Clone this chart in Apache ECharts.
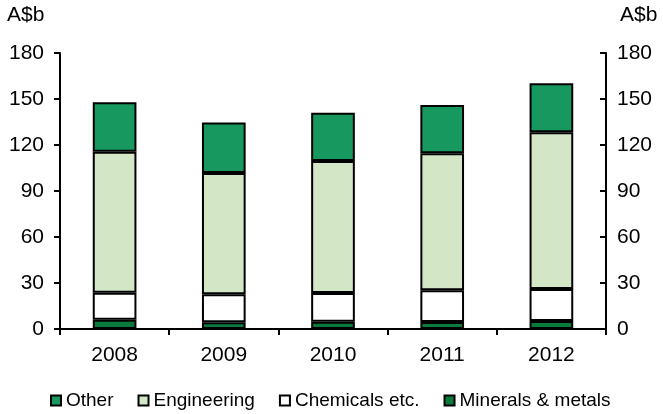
<!DOCTYPE html>
<html>
<head>
<meta charset="utf-8">
<script src="https://cdn.jsdelivr.net/npm/echarts@6/dist/echarts.min.js"></script>
<style>
  html, body { margin: 0; padding: 0; background: #fff; }
  #div1 { width: 663px; height: 414px; }
</style>
</head>
<body>
<div id="div1"></div>
<script>
// 数据
var years = ['2008', '2009', '2010', '2011', '2012'];
var minerals = [6.1, 4.4, 4.8, 4.6, 5.2];
var chemicals = [17.6, 18.2, 18.7, 20.6, 20.9];
var engineering = [91.9, 79.2, 86.1, 89.4, 102.2];
var other = [32.3, 32.8, 31.5, 31.5, 32.0];
var yTicks = [0, 30, 60, 90, 120, 150, 180];

function echart1() {
    var myChart = echarts.init(document.getElementById('div1'));
    var font = 'Arial, "Liberation Sans", sans-serif';
    function bar(name, data, color) {
        return {
            name: name,
            type: 'bar',
            stack: 'total',
            barWidth: '40%',
            data: data,
            itemStyle: { color: color, borderColor: '#000', borderWidth: 2 }
        };
    }
    function yAxis(pos) {
        return {
            type: 'value',
            position: pos,
            min: yTicks[0],
            max: yTicks[yTicks.length - 1],
            interval: 30,
            axisLine: { show: true, lineStyle: { color: '#000', width: 2 } },
            axisTick: { show: true, inside: pos == 'right', length: 6, lineStyle: { color: '#000', width: 2 } },
            axisLabel: { color: '#000', fontSize: 21, fontFamily: font, margin: pos == 'right' ? 11 : 16 },
            splitLine: { show: false }
        };
    }
    option = {
        animation: false,
        textStyle: { fontFamily: font },
        grid: { left: 60, right: 57, top: 53, bottom: 85 },
        legend: {
            data: ['Other', 'Engineering', 'Chemicals etc.', 'Minerals & metals'],
            left: 45,
            top: 386,
            itemWidth: 10,
            itemHeight: 10,
            itemGap: 24,
            icon: 'rect',
            itemStyle: { borderColor: '#000', borderWidth: 2 },
            textStyle: { color: '#000', fontSize: 19, fontFamily: font }
        },
        graphic: [
            { type: 'text', left: 7, top: 5, style: { text: 'A$b', fill: '#000', font: '21px ' + font } },
            { type: 'text', left: 620, top: 5, style: { text: 'A$b', fill: '#000', font: '21px ' + font } }
        ],
        xAxis: {
            type: 'category',
            data: years,
            axisLine: { lineStyle: { color: '#000', width: 2 } },
            axisTick: { show: true, length: 6, lineStyle: { color: '#000', width: 2 } },
            axisLabel: { color: '#000', fontSize: 21, fontFamily: font, margin: 16 }
        },
        yAxis: [yAxis('left'), yAxis('right')],
        series: [
            bar('Minerals & metals', minerals, '#0b7a3d'),
            bar('Chemicals etc.', chemicals, '#ffffff'),
            bar('Engineering', engineering, '#d3e7c7'),
            bar('Other', other, '#17985f')
        ]
    };
    myChart.setOption(option);
}
echart1();
</script>
</body>
</html>
